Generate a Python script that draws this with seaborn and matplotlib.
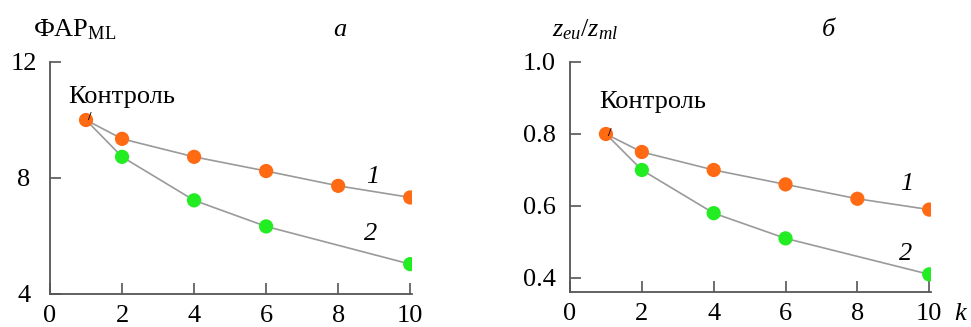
import numpy as np
import pandas as pd
import seaborn as sns
import matplotlib.pyplot as plt

# --- dati ---
k1 = [1, 2, 4, 6, 8, 10]
k2 = [1, 2, 4, 6, 10]
far_1 = [10.0, 9.35, 8.73, 8.24, 7.73, 7.33]
far_2 = [10.0, 8.73, 7.23, 6.33, 5.03]
z_1 = [0.80, 0.75, 0.70, 0.66, 0.62, 0.59]
z_2 = [0.80, 0.70, 0.58, 0.51, 0.41]

left_yticks = [4, 8, 12]
right_yticks = [0.4, 0.6, 0.8, 1.0]
xticks = [0, 2, 4, 6, 8, 10]

ORANGE = '#FF6A12'
GREEN = '#22EC22'
LINE = '#9a9a9a'
SPINE = '#555555'

sns.set_style("white")
plt.rcParams['font.family'] = ['Liberation Serif', 'DejaVu Serif']
plt.rcParams['mathtext.fontset'] = 'custom'
plt.rcParams['mathtext.rm'] = 'Liberation Serif'
plt.rcParams['mathtext.it'] = 'Liberation Serif:italic'
plt.rcParams['text.color'] = 'black'
plt.rcParams['xtick.labelcolor'] = 'black'
plt.rcParams['ytick.labelcolor'] = 'black'
FS = 19

fig = plt.figure(figsize=(9.71, 3.27), dpi=100)
ax1 = fig.add_axes([50 / 971, 33 / 327, 362 / 971, 232 / 327])
ax2 = fig.add_axes([570 / 971, 35 / 327, 361 / 971, 230 / 327])


def draw(ax, y1, y2):
    sns.lineplot(x=k1, y=y1, ax=ax, color=LINE, lw=1.2, zorder=1)
    sns.lineplot(x=k2, y=y2, ax=ax, color=LINE, lw=1.2, zorder=1)
    sns.scatterplot(x=k1, y=y1, ax=ax, color=ORANGE, s=105, edgecolor='none', zorder=3)
    sns.scatterplot(x=k2[1:], y=y2[1:], ax=ax, color=GREEN, s=105, edgecolor='none', zorder=3)
    ax.set_xlim(0, 10.05)
    ax.set_xticks(xticks)
    ax.set_xticklabels([str(t) for t in xticks], fontsize=FS)
    for s in ['top', 'right']:
        ax.spines[s].set_visible(False)
    for s in ['left', 'bottom']:
        ax.spines[s].set_color(SPINE)
        ax.spines[s].set_linewidth(1.3)
    ax.tick_params(axis='both', direction='in', length=8, width=1.2, color=SPINE,
                   labelsize=FS, labelcolor='black', bottom=True, left=True)
    ax.tick_params(axis='x', pad=8)
    ax.set_xlabel('')
    ax.set_ylabel('')


# --- pannello a ---
draw(ax1, far_1, far_2)
ax1.set_ylim(4, 12)
ax1.set_yticks(left_yticks)
ax1.set_yticklabels([str(t) for t in left_yticks])
ax1.tick_params(axis='y', pad=19)
for lab in ax1.get_yticklabels():
    lab.set_horizontalalignment('center')
ax1.text(0.5, 10.8, 'Контроль', fontsize=FS, va='center', ha='left')
ax1.text(1.08, 10.1, '/', fontsize=9, fontweight='bold', ha='center', va='center', zorder=4)
ax1.text(8.97, 8.03, '1', fontsize=FS, style='italic', ha='center', va='center')
ax1.text(8.9, 6.08, '2', fontsize=FS, style='italic', ha='center', va='center')

# --- pannello б ---
draw(ax2, z_1, z_2)
ax2.set_ylim(0.361, 1.0)
ax2.set_yticks(right_yticks)
ax2.set_yticklabels([f'{t:.1f}' for t in right_yticks])
ax2.tick_params(axis='y', pad=10)
ax2.text(0.8, 0.89, 'Контроль', fontsize=FS, va='center', ha='left')
ax2.text(1.08, 0.803, '/', fontsize=9, fontweight='bold', ha='center', va='center', zorder=4)
ax2.text(9.36, 0.66, '1', fontsize=FS, style='italic', ha='center', va='center')
ax2.text(9.33, 0.466, '2', fontsize=FS, style='italic', ha='center', va='center')

# titoli e lettere
fig.text(33 / 971, 1 - 30 / 327, r'ФАР$_{\mathrm{ML}}$', fontsize=FS, va='center', ha='left')
fig.text(340 / 971, 1 - 30 / 327, 'а', fontsize=FS, style='italic', va='center', ha='center')
fig.text(552 / 971, 1 - 30 / 327, r'$z_{eu}/z_{ml}$', fontsize=FS, va='center', ha='left')
fig.text(828 / 971, 1 - 30 / 327, 'б', fontsize=FS, style='italic', va='center', ha='center')
fig.text(960 / 971, 1 - 314 / 327, 'k', fontsize=FS, style='italic', va='center', ha='center')

plt.savefig('out.png', dpi=100)
